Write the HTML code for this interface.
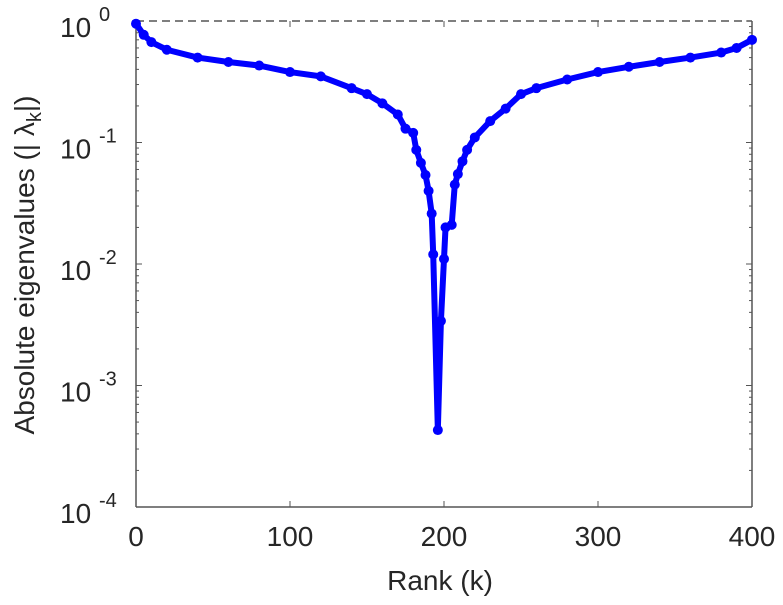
<!DOCTYPE html>
<html><head><meta charset="utf-8"><style>
body{margin:0;background:#fff;}
svg text{font-family:"Liberation Sans",sans-serif;fill:#262626;}
</style></head><body>
<svg id="chart" width="783" height="600" xmlns="http://www.w3.org/2000/svg"></svg>
<script>
const ranks=[0,5,10,20,40,60,80,100,120,140,150,160,170,175,180,182,185,188,190,192,193,196,198,200,201,205,207,209,212,215,220,230,240,250,260,280,300,320,340,360,380,390,400];
const eigenvalues=[0.95,0.77,0.67,0.58,0.5,0.46,0.43,0.38,0.35,0.28,0.25,0.21,0.17,0.13,0.12,0.087,0.068,0.054,0.04,0.026,0.012,0.00043,0.0034,0.011,0.02,0.021,0.045,0.055,0.07,0.087,0.11,0.15,0.19,0.25,0.28,0.33,0.38,0.42,0.46,0.5,0.55,0.6,0.7];
const xTicks=[0,100,200,300,400];
const yExps=[0,-1,-2,-3,-4];
const NS="http://www.w3.org/2000/svg";
const svg=document.getElementById('chart');
const X0=136,X1=752,Y0=21,Y1=507;
const xs=v=>X0+(v/400)*(X1-X0);
const ys=v=>Y0+(-Math.log10(v)/4)*(Y1-Y0);
function mk(t,a,p){const e=document.createElementNS(NS,t);for(const k in a)e.setAttribute(k,a[k]);(p||svg).appendChild(e);return e;}
const ax=mk('g',{});


mk('line',{x1:X0,y1:Y0,x2:X1,y2:Y0,stroke:'#555','stroke-dasharray':'8,5','stroke-width':1.5},ax);
mk('line',{x1:X0,y1:Y0,x2:X0,y2:Y1,stroke:'#555','stroke-width':1.5},ax);
mk('line',{x1:X0,y1:Y1,x2:X1,y2:Y1,stroke:'#555','stroke-width':1.5},ax);
mk('line',{x1:X1,y1:Y0,x2:X1,y2:Y1,stroke:'#555','stroke-width':1.5},ax);
xTicks.forEach(t=>{const x=xs(t);
mk('line',{x1:x,y1:Y1,x2:x,y2:Y1-6,stroke:'#555'},ax);
mk('line',{x1:x,y1:Y0,x2:x,y2:Y0+6,stroke:'#555'},ax);
const tx=mk('text',{x:x,y:Y1+39,'text-anchor':'middle','font-size':28},ax);tx.textContent=t;


});
yExps.forEach(e=>{const y=ys(Math.pow(10,e));
mk('line',{x1:X0,y1:y,x2:X0+6,y2:y,stroke:'#555'},ax);
mk('line',{x1:X1,y1:y,x2:X1-6,y2:y,stroke:'#555'},ax);
const tx=mk('text',{x:60,y:y+16,'font-size':28},ax);tx.textContent='10';


const sp=mk('text',{x:99,y:y,'font-size':20},ax);sp.textContent=String(e);
if(e<0){for(let m=2;m<10;m++){const yy=ys(m*Math.pow(10,e));
mk('line',{x1:X0,y1:yy,x2:X0+3,y2:yy,stroke:'#555'},ax);
mk('line',{x1:X1,y1:yy,x2:X1-3,y2:yy,stroke:'#555'},ax);}}
});
const xl=mk('text',{x:440,y:590,'text-anchor':'middle','font-size':28});xl.textContent='Rank (k)';


const yl=mk('text',{x:0,y:0,'text-anchor':'middle','font-size':28,transform:'translate(34,265) rotate(-90)'});
yl.textContent='Absolute eigenvalues (|     λ';
const sub=mk('tspan',{'font-size':20,dy:7},yl);sub.textContent='k';
const cl=mk('tspan',{dy:-7},yl);cl.textContent='|)';


const pts=ranks.map((r,i)=>xs(r)+','+ys(eigenvalues[i])).join(' ');
const line=mk('polyline',{points:pts,fill:'none',stroke:'#0000ff','stroke-width':6,'stroke-linejoin':'round'});


ranks.forEach((r,i)=>{const c=mk('circle',{cx:xs(r),cy:ys(eigenvalues[i]),r:5,fill:'#0000ff'});

});
</script>
</body></html>
